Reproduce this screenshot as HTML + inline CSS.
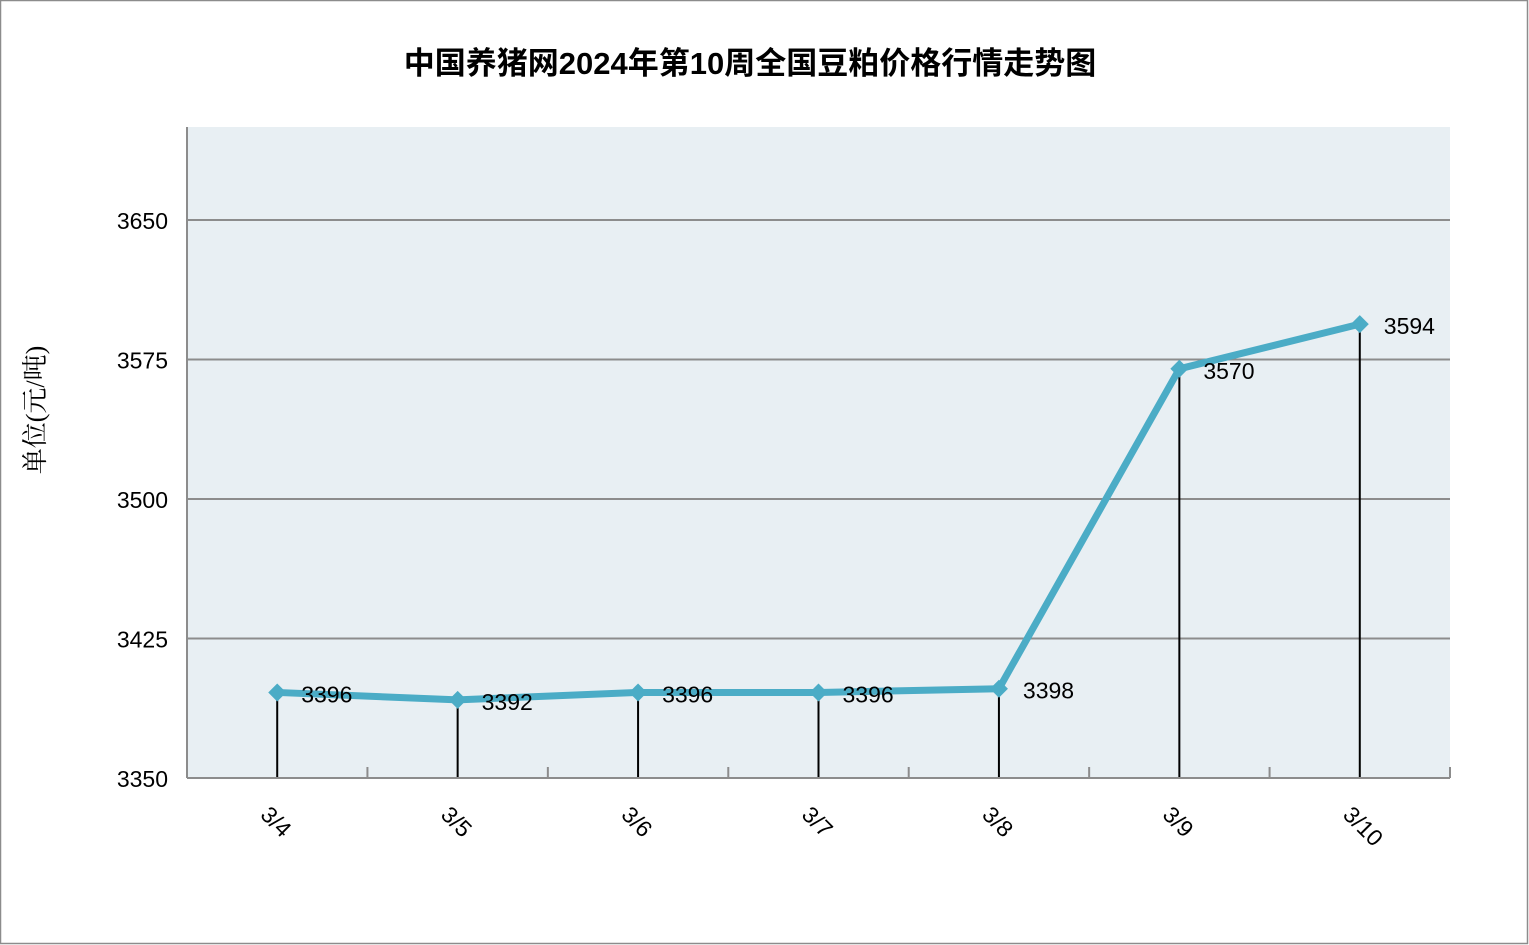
<!DOCTYPE html>
<html><head><meta charset="utf-8"><style>
html,body{margin:0;padding:0;background:#fff}
svg{display:block}
text{font-family:"Liberation Sans","Noto Sans CJK SC",sans-serif}
</style></head><body>
<svg id="chart" width="1529" height="945" xmlns="http://www.w3.org/2000/svg">
<rect x="0.5" y="0.5" width="1527" height="943" fill="#fff" stroke="#8c8c8c" stroke-width="1.5"/>
<text x="750" y="74" text-anchor="middle" font-size="31" font-weight="bold" fill="#000">中国养猪网2024年第10周全国豆粕价格行情走势图</text>
<text transform="translate(44,410) rotate(-90)" text-anchor="middle" font-size="26" style="font-family:'Liberation Serif','Noto Serif CJK SC',serif" fill="#000">单位(元/吨)</text>
<rect x="187" y="127" width="1263" height="651" fill="#e8eff3"/>
<g id="grid"></g><g id="drops"></g><g id="axes"></g><g id="series"></g><g id="labels"></g>
</svg>
<script>
const categories = ["3/4","3/5","3/6","3/7","3/8","3/9","3/10"];
const values = [3396,3392,3396,3396,3398,3570,3594];
const yTicks = [3350,3425,3500,3575,3650];
const yMin=3350,yMax=3700,L=187,R=1450,T=127,B=778;
const NS="http://www.w3.org/2000/svg";
const bw=(R-L)/categories.length;
const x=i=>L+bw*(i+0.5);
const y=v=>B-(v-yMin)/(yMax-yMin)*(B-T);
function mk(tag,attrs,parent,txt){const e=document.createElementNS(NS,tag);for(const k in attrs)e.setAttribute(k,attrs[k]);if(txt!==undefined)e.textContent=txt;document.getElementById(parent).appendChild(e);return e;}
yTicks.forEach(v=>{
  if(v>yMin){const g=mk('line',{x1:L,x2:R,y1:y(v),y2:y(v),stroke:'#8c8c8c','stroke-width':2},'grid');
  
  }
  const t=mk('text',{x:168,y:y(v)+9,'text-anchor':'end','font-size':23,fill:'#000'},'axes',v);
  
  
});
const ax=mk('line',{x1:L,x2:R,y1:B,y2:B,stroke:'#8c8c8c','stroke-width':2},'axes');


const ay=mk('line',{x1:L,x2:L,y1:T,y2:B,stroke:'#8c8c8c','stroke-width':2},'axes');


for(let i=1;i<=categories.length;i++){const tk=mk('line',{x1:L+bw*i,x2:L+bw*i,y1:B-11,y2:B,stroke:'#8c8c8c','stroke-width':2},'axes');

}
categories.forEach((c,i)=>{
  const d=mk('line',{x1:x(i),x2:x(i),y1:y(values[i]),y2:B,stroke:'#000','stroke-width':2},'drops');
  
  
  const t=mk('text',{transform:`translate(${x(i)-18},${B+38}) rotate(45)`,'font-size':23,fill:'#000'},'labels',c);
  
  
});
const pl=mk('polyline',{points:values.map((v,i)=>x(i)+','+y(v)).join(' '),fill:'none',stroke:'#4bacc6','stroke-width':7,'stroke-linejoin':'round'},'series');


values.forEach((v,i)=>{
  const cx=x(i),cy=y(v);
  const m=mk('polygon',{points:`${cx},${cy-9} ${cx+9},${cy} ${cx},${cy+9} ${cx-9},${cy}`,fill:'#4bacc6'},'series');
  
  
  const t=mk('text',{x:cx+24,y:cy+10,'font-size':23,fill:'#000'},'labels',v);
  
  
});
</script>
</body></html>
